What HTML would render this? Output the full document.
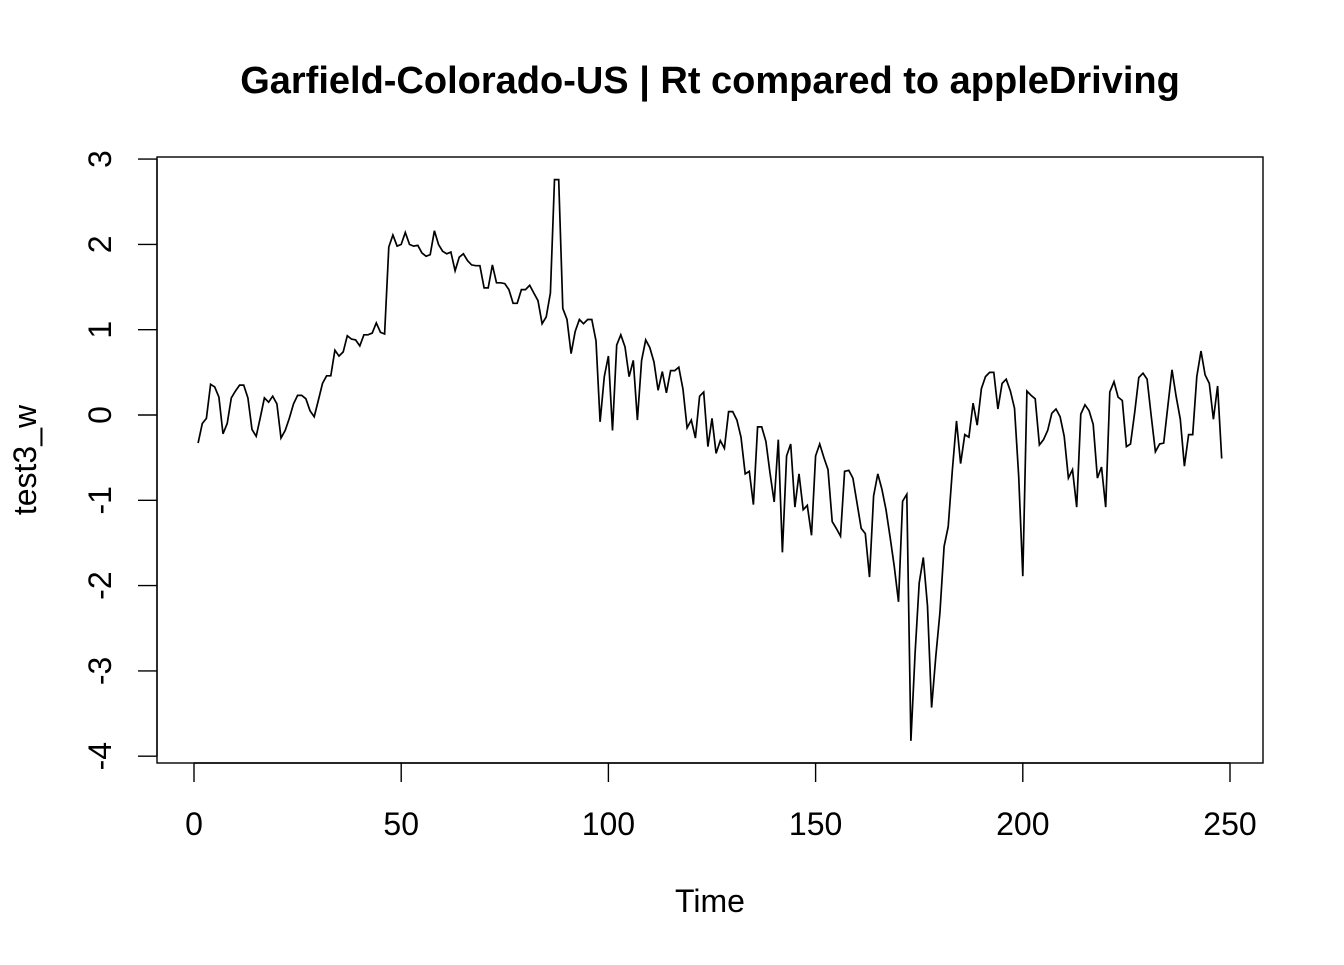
<!DOCTYPE html>
<html><head><meta charset="utf-8"><style>
body{margin:0;background:#fff}
svg text{font-family:"Liberation Sans",Arial,sans-serif;fill:#000}
</style></head><body>
<svg id="chart" width="1344" height="960" xmlns="http://www.w3.org/2000/svg">
<rect width="1344" height="960" fill="#fff"/>
<text x="710" y="93" text-anchor="middle" font-size="38" font-weight="bold">Garfield-Colorado-US | Rt compared to appleDriving</text>
<rect x="157" y="157" width="1106" height="606" fill="none" stroke="#000" stroke-width="1.4"/>
<g id="xaxis"></g>
<g id="yaxis"></g>
<text x="710" y="912" text-anchor="middle" font-size="32">Time</text>
<text transform="translate(36,460) rotate(-90)" text-anchor="middle" font-size="32">test3_w</text>
<path id="line" fill="none" stroke="#000" stroke-width="1.7"/>
</svg>
<script>
const xTicks=[0,50,100,150,200,250];
const yTicks=[-4,-3,-2,-1,0,1,2,3];
const values=[-0.33,-0.1,-0.04,0.36,0.33,0.21,-0.22,-0.1,0.2,0.28,0.35,0.35,0.2,-0.17,-0.25,-0.03,0.2,0.15,0.22,0.13,
-0.27,-0.18,-0.04,0.13,0.23,0.23,0.19,0.05,-0.02,0.17,0.37,0.46,0.46,0.76,0.69,0.74,0.93,0.89,0.88,0.81,
0.94,0.94,0.96,1.08,0.97,0.95,1.97,2.11,1.98,2.0,2.14,2.0,1.98,1.99,1.9,1.86,1.88,2.16,2.0,1.92,
1.89,1.91,1.69,1.85,1.89,1.81,1.76,1.75,1.75,1.49,1.49,1.76,1.55,1.55,1.54,1.47,1.31,1.31,1.47,1.47,
1.52,1.43,1.34,1.07,1.15,1.43,2.76,2.76,1.25,1.12,0.72,0.98,1.12,1.07,1.12,1.12,0.87,-0.08,0.45,0.69,
-0.18,0.82,0.94,0.8,0.45,0.64,-0.06,0.64,0.88,0.79,0.62,0.29,0.51,0.26,0.52,0.52,0.56,0.3,-0.15,-0.06,
-0.27,0.22,0.27,-0.37,-0.04,-0.45,-0.3,-0.39,0.04,0.04,-0.06,-0.26,-0.69,-0.66,-1.05,-0.14,-0.14,-0.31,-0.68,-1.02,
-0.29,-1.61,-0.48,-0.34,-1.08,-0.69,-1.11,-1.06,-1.41,-0.48,-0.34,-0.5,-0.64,-1.25,-1.33,-1.42,-0.66,-0.65,-0.74,-1.03,
-1.33,-1.39,-1.9,-0.95,-0.69,-0.87,-1.11,-1.44,-1.78,-2.19,-1.01,-0.93,-3.82,-2.79,-1.97,-1.67,-2.24,-3.43,-2.83,-2.32,
-1.54,-1.31,-0.64,-0.07,-0.57,-0.23,-0.26,0.14,-0.12,0.31,0.45,0.5,0.5,0.07,0.37,0.42,0.28,0.08,-0.72,-1.89,
0.28,0.23,0.19,-0.35,-0.29,-0.18,0.02,0.07,-0.02,-0.25,-0.74,-0.64,-1.08,0.01,0.12,0.05,-0.11,-0.74,-0.61,-1.08,
0.27,0.39,0.21,0.17,-0.37,-0.34,0.03,0.44,0.49,0.42,-0.02,-0.43,-0.34,-0.33,0.1,0.53,0.22,-0.05,-0.6,-0.23,
-0.23,0.45,0.75,0.47,0.37,-0.05,0.34,-0.51];
const NS='http://www.w3.org/2000/svg';
const X=v=>194+v*(1230-194)/250;
const Y=v=>415-v*85.3;
let d='';
values.forEach((v,i)=>{d+=(i?'L':'M')+X(i+1).toFixed(1)+','+Y(v).toFixed(1);});
document.getElementById('line').setAttribute('d',d);
const xa=document.getElementById('xaxis');
let ax=document.createElementNS(NS,'line');
ax.setAttribute('x1',X(xTicks[0]));ax.setAttribute('x2',X(xTicks[xTicks.length-1]));
ax.setAttribute('y1',763);ax.setAttribute('y2',763);ax.setAttribute('stroke','#000');ax.setAttribute('stroke-width','1.4');


xa.appendChild(ax);
xTicks.forEach(t=>{
 const l=document.createElementNS(NS,'line');
 l.setAttribute('x1',X(t));l.setAttribute('x2',X(t));l.setAttribute('y1',763);l.setAttribute('y2',782);
 l.setAttribute('stroke','#000');l.setAttribute('stroke-width','1.4');
 
 
 xa.appendChild(l);
 const tx=document.createElementNS(NS,'text');
 tx.setAttribute('x',X(t));tx.setAttribute('y',835);tx.setAttribute('text-anchor','middle');tx.setAttribute('font-size','32');
 tx.textContent=t;
 
 
 xa.appendChild(tx);
});
const ya=document.getElementById('yaxis');
let ay=document.createElementNS(NS,'line');
ay.setAttribute('x1',157);ay.setAttribute('x2',157);
ay.setAttribute('y1',Y(yTicks[0]));ay.setAttribute('y2',Y(yTicks[yTicks.length-1]));ay.setAttribute('stroke','#000');ay.setAttribute('stroke-width','1.4');


ya.appendChild(ay);
yTicks.forEach(t=>{
 const l=document.createElementNS(NS,'line');
 l.setAttribute('x1',138);l.setAttribute('x2',157);l.setAttribute('y1',Y(t));l.setAttribute('y2',Y(t));
 l.setAttribute('stroke','#000');l.setAttribute('stroke-width','1.4');
 
 
 ya.appendChild(l);
 const tx=document.createElementNS(NS,'text');
 tx.setAttribute('transform','translate(111,'+Y(t)+') rotate(-90)');tx.setAttribute('text-anchor','middle');tx.setAttribute('font-size','32');
 tx.textContent=t;
 
 
 ya.appendChild(tx);
});
</script>
</body></html>
